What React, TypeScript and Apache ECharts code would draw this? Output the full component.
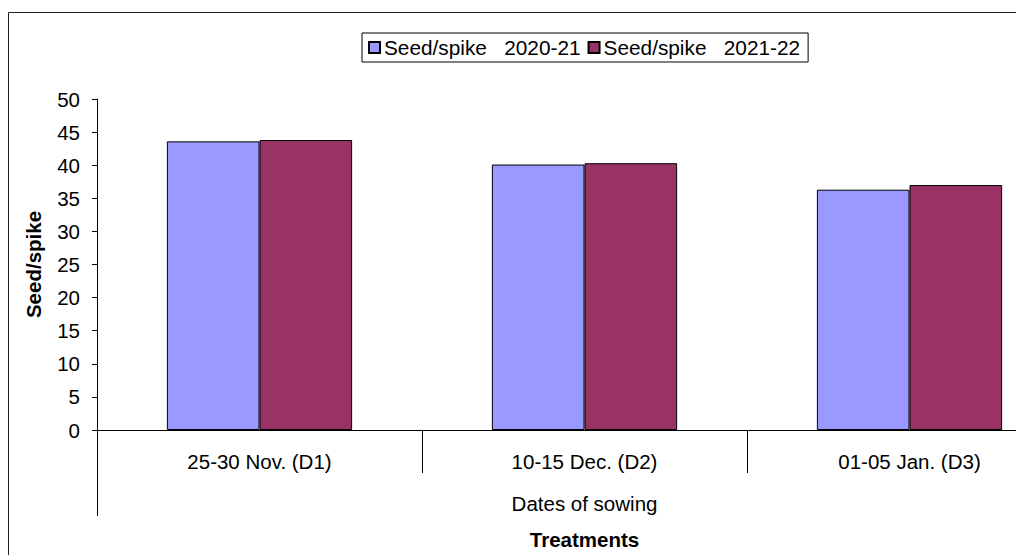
import React, { useEffect, useRef } from "react";
import * as echarts from "echarts";

const categories = ["25-30 Nov. (D1)", "10-15 Dec. (D2)", "01-05 Jan. (D3)"];
const seed2020 = [43.6, 40.1, 36.3];
const seed2021 = [43.8, 40.3, 37.0];
const seriesNames = ["Seed/spike   2020-21", "Seed/spike   2021-22"];
const yTicks = { min: 0, max: 50, interval: 5 };

const FONT = "Liberation Sans";

export default function App() {
  const ref = useRef<HTMLDivElement>(null);
  useEffect(() => {
    if (!ref.current) return;
    const chart = echarts.init(ref.current, undefined, { renderer: "svg" });
    const gridLeft = 97;
    const gridTop = 99;
    const gridHeight = 331;
    const gridWidth = 975;
    const axisY = gridTop + gridHeight;
    const midX = gridLeft + gridWidth / 2;
    chart.setOption({
      animation: false,
      backgroundColor: "#fff",
      textStyle: { fontFamily: FONT },
      grid: { left: gridLeft, top: gridTop, width: gridWidth, height: gridHeight, containLabel: false },
      legend: {
        left: 362,
        top: 33,
        orient: "horizontal",
        padding: [4, 8, 4, 6],
        itemGap: 7,
        itemWidth: 11,
        itemHeight: 11,
        icon: "rect",
        borderColor: "#000",
        borderWidth: 1,
        backgroundColor: "#fff",
        textStyle: { fontFamily: FONT, fontSize: 20.8, color: "#000", padding: [0, 0, 0, -1] },
        data: seriesNames,
      },
      xAxis: {
        type: "category",
        data: categories,
        name: "Treatments",
        nameLocation: "middle",
        nameGap: 99,
        nameTextStyle: { fontFamily: FONT, fontSize: 20.5, fontWeight: "bold", color: "#000" },
        axisLine: { lineStyle: { color: "#000", width: 1 } },
        axisTick: { show: true, interval: 0, length: 43, lineStyle: { color: "#000" } },
        axisLabel: { interval: 0, margin: 21, fontFamily: FONT, fontSize: 20.5, color: "#000" },
        splitLine: { show: false },
      },
      yAxis: {
        type: "value",
        min: yTicks.min,
        max: yTicks.max,
        interval: yTicks.interval,
        name: "Seed/spike",
        nameLocation: "middle",
        nameRotate: 90,
        nameGap: 53,
        nameTextStyle: { fontFamily: FONT, fontSize: 20.5, fontWeight: "bold", color: "#000" },
        axisLine: { show: true, lineStyle: { color: "#000", width: 1 } },
        axisTick: { show: true, length: 5, lineStyle: { color: "#000" } },
        axisLabel: { margin: 17, fontFamily: FONT, fontSize: 20.5, color: "#000" },
        splitLine: { show: false },
      },
      series: [
        {
          name: seriesNames[0],
          type: "bar",
          data: seed2020,
          barGap: "0%",
          barCategoryGap: "43%",
          itemStyle: { color: "#9999FF", borderColor: "#000", borderWidth: 1 },
        },
        {
          name: seriesNames[1],
          type: "bar",
          data: seed2021,
          barGap: "0%",
          barCategoryGap: "43%",
          itemStyle: { color: "#993366", borderColor: "#000", borderWidth: 1 },
        },
      ],
      graphic: [
        {
          type: "rect",
          shape: { x: 8.5, y: 12.5, width: 1200, height: 700 },
          style: { fill: "none", stroke: "#222", lineWidth: 1 },
          silent: true,
          z: -10,
        },
        {
          type: "line",
          shape: { x1: gridLeft + 0.5, y1: axisY, x2: gridLeft + 0.5, y2: axisY + 86 },
          style: { stroke: "#000", lineWidth: 1 },
          silent: true,
        },
        {
          type: "text",
          x: midX,
          y: axisY + 73,
          style: {
            text: "Dates of sowing",
            fontFamily: FONT,
            fontSize: 20.5,
            fill: "#000",
            align: "center",
            verticalAlign: "middle",
          },
          silent: true,
        },
      ],
    });
    return () => chart.dispose();
  }, []);
  return (
    <div
      style={{ position: "fixed", left: 0, top: 0, width: 1016, height: 555, overflow: "hidden", background: "#fff" }}
    >
      <div ref={ref} style={{ position: "absolute", left: 0, top: 0, width: 1100, height: 555 }} />
    </div>
  );
}
